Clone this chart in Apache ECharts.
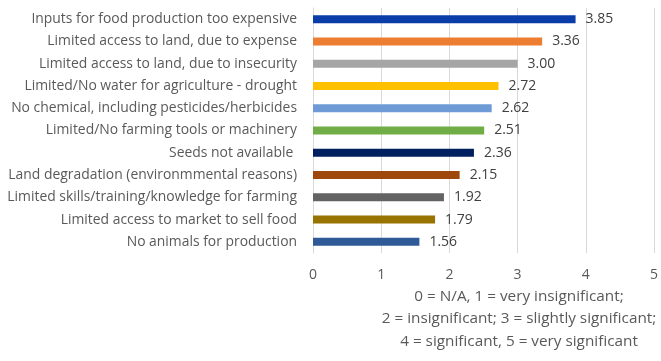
<!DOCTYPE html>
<html>
<head>
<meta charset="utf-8">
<script src="https://cdn.jsdelivr.net/npm/echarts@6/dist/echarts.min.js"></script>
<style>
  html, body { margin: 0; padding: 0; background: #fff; }
  #chart { width: 661px; height: 361px; }
</style>
</head>
<body>
<div id="chart"></div>
<script>
// Constraints to food production, mean rating (0-5 scale)
const categories = [
  'Inputs for food production too expensive',
  'Limited access to land, due to expense',
  'Limited access to land, due to insecurity',
  'Limited/No water for agriculture - drought',
  'No chemical, including pesticides/herbicides',
  'Limited/No farming tools or machinery',
  'Seeds not available ',
  'Land degradation (environmmental reasons)',
  'Limited skills/training/knowledge for farming',
  'Limited access to market to sell food',
  'No animals for production'
];
const values = [3.85, 3.36, 3.00, 2.72, 2.62, 2.51, 2.36, 2.15, 1.92, 1.79, 1.56];
const barColors = ['#0B3DA8', '#ED7D31', '#A5A5A5', '#FFC000', '#6E9BD6', '#70AD47',
                   '#002060', '#9E480E', '#636363', '#997300', '#2E5B97'];
const tickValues = [0, 1, 2, 3, 4, 5];
const scaleNote = [
  '0 = N/A, 1 = very insignificant;',
  '2 = insignificant; 3 = slightly significant;',
  '4 = significant, 5 = very significant'
];

const FONT = '"Open Sans", sans-serif';
const chart = echarts.init(document.getElementById('chart'), null, { renderer: 'canvas' });

chart.setOption({
  animation: false,
  backgroundColor: '#ffffff',
  grid: { left: 313, right: 4, top: 8, bottom: 108, containLabel: false },
  xAxis: {
    type: 'value',
    min: tickValues[0],
    max: tickValues[tickValues.length - 1],
    interval: 1,
    axisLine: { show: false },
    axisTick: { show: false },
    splitLine: { show: true, lineStyle: { color: '#D9D9D9', width: 1 } },
    axisLabel: { color: '#595959', fontFamily: FONT, fontSize: 14, margin: 15 }
  },
  yAxis: {
    type: 'category',
    data: categories,
    inverse: true,
    axisLine: { show: true, lineStyle: { color: '#D9D9D9', width: 1 } },
    axisTick: { show: false },
    axisLabel: { color: '#595959', fontFamily: FONT, fontSize: 13.9, margin: 16 }
  },
  series: [{
    type: 'bar',
    data: values.map((v, i) => ({ value: v, itemStyle: { color: barColors[i] } })),
    barWidth: 8,
    label: {
      show: true,
      position: 'right',
      distance: 10,
      color: '#404040',
      fontFamily: FONT,
      fontSize: 14,
      formatter: p => p.value.toFixed(2)
    }
  }],
  graphic: [{
    type: 'text',
    x: 519,
    y: 285,
    style: {
      text: scaleNote.join('\n'),
      fill: '#595959',
      font: '15.3px ' + FONT,
      textAlign: 'center',
      lineHeight: 22.5
    }
  }]
});
</script>
</body>
</html>
